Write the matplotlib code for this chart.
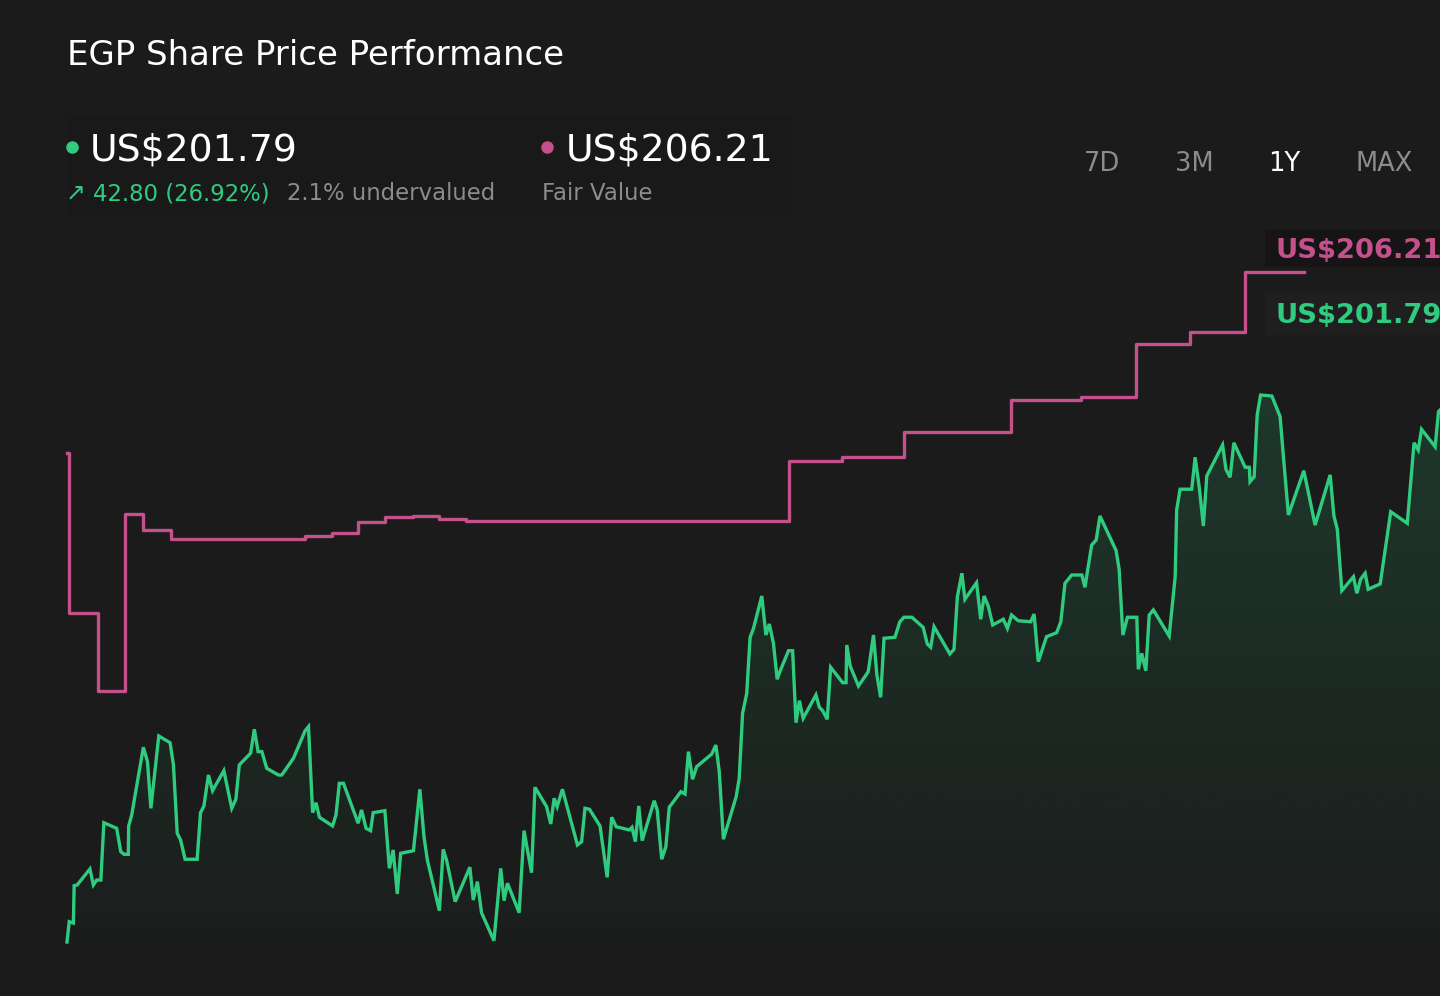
import numpy as np
import matplotlib
matplotlib.use("Agg")
import matplotlib.pyplot as plt
from matplotlib.colors import LinearSegmentedColormap
from matplotlib.patches import Rectangle
from matplotlib.lines import Line2D

# ---------------- data (day of year, US$) ----------------
q1_days = [0, 0.6, 1.7, 1.9, 2.7, 6.1, 7.0, 7.9, 9.0, 9.8, 13.2, 14.3, 15.2, 16.3, 16.4, 17.2,
           20.3, 21.4, 22.3, 24.4, 27.4, 28.3, 29.3, 30.2, 31.4, 34.6, 35.5, 36.4, 37.6, 38.7,
           41.7, 43.8, 44.9, 45.8, 48.8, 49.8, 50.8, 51.8, 53.1, 56.2, 57.1, 60.2, 63.3, 64.2,
           65.3, 66.2, 67.1, 70.6, 71.5, 72.4, 73.5, 77.4, 78.3, 79.5, 80.7, 81.4, 84.5, 85.7,
           86.7, 87.8, 88.7, 92.1]
q1_prices = [158.99, 160.63, 160.52, 163.53, 163.58, 164.87, 163.58, 163.98, 163.98, 168.59,
             168.14, 166.26, 166.05, 166.05, 168.33, 169.21, 174.66, 173.50, 169.75, 175.57,
             175.03, 173.24, 167.74, 167.20, 165.65, 165.65, 169.40, 169.94, 172.43, 171.17,
             172.78, 169.75, 170.48, 173.24, 174.18, 176.11, 174.31, 174.31, 172.97, 172.43,
             172.43, 173.78, 175.99, 176.32, 169.40, 170.20, 169.03, 168.33, 169.21, 171.76,
             171.76, 168.55, 169.62, 168.14, 167.95, 169.40, 169.56, 164.92, 166.40, 162.86,
             166.13, 166.34]

q2_days = [93.8, 94.9, 95.8, 99.0, 100.0, 100.9, 103.2, 107.1, 108.0, 109.1, 110.2, 113.5,
           115.3, 116.2, 117.1, 120.2, 121.5, 123.5, 124.4, 127.5, 128.6, 129.5, 130.3, 131.7,
           135.7, 136.8, 137.7, 138.9, 141.7, 143.6, 144.8, 146.0, 149.5, 150.2, 151.1, 152.0,
           152.9, 156.1, 156.9, 158.1, 159.2, 160.1, 163.2, 164.3, 165.2, 166.3, 167.4, 171.4,
           172.5, 173.4, 174.5]
q2_prices = [171.28, 167.47, 165.59, 161.51, 166.45, 165.59, 162.24, 165.01, 162.37, 163.85,
             161.35, 159.10, 164.92, 162.32, 163.72, 161.35, 167.95, 164.57, 171.44, 169.88,
             168.49, 170.56, 169.88, 171.28, 166.80, 167.07, 169.75, 169.67, 168.33, 164.20,
             169.03, 168.27, 168.01, 168.22, 167.07, 169.94, 167.15, 170.36, 169.62, 165.65,
             166.66, 169.83, 171.09, 170.90, 174.31, 172.09, 173.10, 174.12, 174.84, 172.70,
             167.26]

q3_days = [177.9, 178.7, 179.6, 180.7, 181.6, 182.5, 184.7, 185.8, 186.7, 187.8, 188.8, 189.5,
           191.8, 192.9, 193.8, 194.7, 195.7, 199.1, 200.0, 200.9, 202.1, 203.0, 206.2, 207.1,
           207.3, 208.2, 210.4, 213.0, 214.4, 215.3, 216.3, 217.2, 220.1, 221.4, 222.5, 224.6,
           227.6, 228.7, 229.6, 230.5, 234.7, 235.8, 236.7, 237.9, 238.7, 241.8, 242.9, 243.8,
           244.9, 246.1, 248.9, 250.0, 251.1, 252.9, 256.2, 257.1, 258.2]
q3_prices = [170.69, 172.17, 177.40, 179.00, 183.51, 184.23, 186.83, 183.69, 184.58, 183.03,
             180.13, 180.74, 182.43, 182.43, 176.64, 178.41, 176.99, 178.87, 177.88, 177.60,
             176.91, 181.10, 179.86, 179.86, 182.89, 181.20, 179.59, 180.74, 183.69, 180.48,
             178.68, 183.43, 183.51, 184.76, 185.12, 185.12, 184.31, 182.97, 182.71, 184.36,
             182.17, 182.54, 186.78, 188.66, 186.57, 187.90, 184.96, 186.83, 186.03, 184.50,
             184.96, 184.23, 185.30, 184.84, 184.76, 185.38, 181.55]

q4_days = [260.4, 263.1, 264.2, 265.3, 267.1, 269.8, 270.6, 272.4, 273.6, 274.6, 278.9, 279.7,
           280.7, 281.9, 284.4, 284.8, 285.7, 286.8, 287.7, 288.8, 293.0, 294.6, 295.0, 295.9,
           299.0, 299.9, 301.0, 302.1, 303.0, 307.2, 308.1, 309.2, 310.2, 313.2, 314.3, 314.5,
           315.6, 316.4, 317.3, 320.3, 322.5, 323.3, 324.7, 328.8, 331.8, 335.8, 336.8, 337.7,
           338.9, 342.0, 342.9, 343.9, 345.1, 345.9, 349.1, 351.9, 356.3, 358.1, 359.2, 360.1,
           363.7, 364.6, 365.0]
q4_prices = [183.56, 183.88, 184.76, 187.85, 188.52, 188.52, 187.53, 190.93, 191.34, 193.27,
             190.48, 188.98, 183.69, 185.12, 185.12, 180.94, 182.22, 180.82, 185.30, 185.71,
             183.61, 188.38, 193.75, 195.42, 195.42, 197.99, 195.58, 192.46, 196.49, 198.98,
             197.02, 196.38, 199.16, 197.19, 197.19, 196.03, 196.43, 201.39, 203.00, 202.92,
             201.26, 198.31, 193.35, 196.91, 192.54, 196.57, 193.27, 192.20, 187.26, 188.38,
             187.05, 188.18, 188.66, 187.37, 187.80, 193.61, 192.68, 199.16, 198.58, 200.24,
             198.84, 201.66, 201.79]

fv_days = [0, 0.5, 8.2, 15.3, 20.3, 27.6, 48.7, 63.3, 70.4, 77.4, 84.5, 91.9, 99.0, 106.1,
           191.9, 206.0, 222.5, 251.0, 269.6, 284.2, 298.5, 313.2, 328.8]
fv_values = [198.34, 185.46, 179.19, 193.43, 192.14, 191.44, 191.38, 191.68, 191.88, 192.81,
             193.16, 193.29, 193.03, 192.89, 197.72, 198.05, 200.03, 202.60, 202.88, 207.11,
             208.07, 212.86, 212.86]

title = "EGP Share Price Performance"
price_label = "US$201.79"
fv_label = "US$206.21"
change_label = "42.80 (26.92%)"
valuation_label = "2.1% undervalued"
fv_caption = "Fair Value"
periods = ["7D", "3M", "1Y", "MAX"]
active_period = "1Y"

days = np.array(q1_days + q2_days + q3_days + q4_days)
prices = np.array(q1_prices + q2_prices + q3_prices + q4_prices)

# ---------------- style ----------------
BG = "#1b1b1b"
GREEN = "#2fcc80"
PINK = "#c4508c"
GREY = "#8c8c8c"
W, H = 1440, 996

fig = plt.figure(figsize=(W / 100, H / 100), dpi=100, facecolor=BG)
ax = fig.add_axes([0, 0, 1, 1])
ax.set_facecolor("none")
ax.set_xlim(-17.81, 365.0)
ax.set_ylim(154.65, 234.78)
ax.axis("off")


def fx(px):
    return px / W


def fy(py):
    return 1 - py / H


# subtle header panel (behind axes)
fig.patches.append(Rectangle((fx(67), fy(215)), fx(725), 100 / H, transform=fig.transFigure,
                             facecolor="#191919", edgecolor="none", zorder=-1))

# gradient area under price
poly = ax.fill_between(days, prices, 154.65, facecolor="none", edgecolor="none")
cmap = LinearSegmentedColormap.from_list(
    "g", [(0.18, 0.80, 0.50, 0.0), (0.18, 0.80, 0.50, 0.17)])
grad = np.linspace(0, 1, 256).reshape(-1, 1)
im = ax.imshow(grad, extent=[0, 365, 154.65, 203.5], origin="lower", aspect="auto",
               cmap=cmap, zorder=1)
im.set_clip_path(poly.get_paths()[0], transform=ax.transData)

ax.plot(days, prices, color=GREEN, lw=2.4, zorder=3, solid_joinstyle="miter")
ax.plot(fv_days, fv_values, color=PINK, lw=2.4, drawstyle="steps-post", zorder=3)

# ---------------- header ----------------
fig.text(fx(67), fy(65), title, color="white", fontsize=24.5, va="baseline", ha="left")

fig.add_artist(Line2D([fx(72)], [fy(147)], marker="o", ms=8, color=GREEN, lw=0,
                      transform=fig.transFigure, zorder=6))
fig.text(fx(90), fy(160), price_label, color="white", fontsize=27.2, va="baseline")
fig.text(fx(66), fy(200), "\u2197", color=GREEN, fontsize=17, va="baseline")
fig.text(fx(93), fy(200), change_label, color=GREEN, fontsize=16.4, va="baseline")
fig.text(fx(287), fy(200), valuation_label, color=GREY, fontsize=16.4, va="baseline")

fig.add_artist(Line2D([fx(547)], [fy(147)], marker="o", ms=8, color=PINK, lw=0,
                      transform=fig.transFigure, zorder=6))
fig.text(fx(566), fy(160), fv_label, color="white", fontsize=27.2, va="baseline")
fig.text(fx(542), fy(200), fv_caption, color=GREY, fontsize=16.4, va="baseline")

period_x = [1102, 1194, 1284, 1384]
for lab, px in zip(periods, period_x):
    fig.text(fx(px), fy(171), lab, color="white" if lab == active_period else GREY,
             fontsize=18.5, va="baseline", ha="center")

# ---------------- end labels ----------------
fig.add_artist(Rectangle((fx(1265), fy(267)), fx(175), 37 / H, transform=fig.transFigure,
                         facecolor="#161415", edgecolor="none", zorder=4))
fig.add_artist(Rectangle((fx(1265), fy(335)), fx(175), 43 / H, transform=fig.transFigure,
                         facecolor="#1f1f1f", edgecolor="none", zorder=4))
fig.text(fx(1275), fy(258), fv_label, color=PINK, fontsize=19.7, fontweight="bold",
         va="baseline", zorder=5)
fig.text(fx(1275), fy(323), price_label, color=GREEN, fontsize=19.7, fontweight="bold",
         va="baseline", zorder=5)

fig.savefig("out.png", dpi=100, facecolor=BG)
